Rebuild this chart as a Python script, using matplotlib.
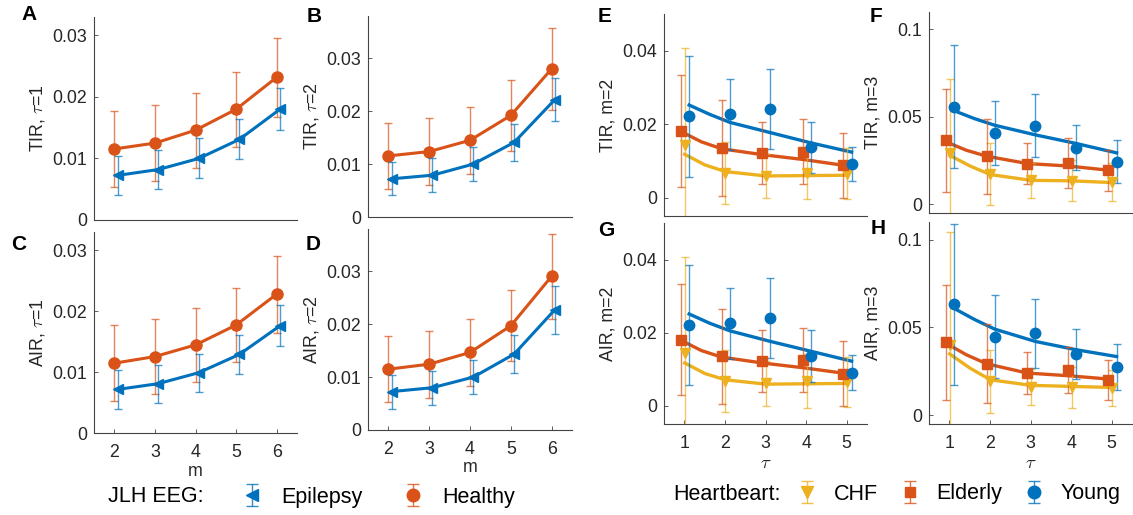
import numpy as np
import matplotlib
matplotlib.use('Agg')
import matplotlib.pyplot as plt
from matplotlib.colors import to_rgba
from matplotlib.container import ErrorbarContainer
from matplotlib.lines import Line2D
from matplotlib.collections import LineCollection

plt.rcParams['font.family'] = ['Liberation Sans', 'DejaVu Sans']
plt.rcParams['mathtext.fontset'] = 'cm'

# ---- data ----
m = [2, 3, 4, 5, 6]
tau = [1, 2, 3, 4, 5]
tau_fit = [1, 1.5, 2, 3, 4, 5]

# JLH EEG (panels A-D): mean and half error bar
tir1_healthy = [0.01155, 0.0125, 0.0146, 0.0180, 0.0232]
tir1_healthy_err = [0.0062, 0.0062, 0.0061, 0.0061, 0.0064]
tir1_epilepsy = [0.00725, 0.0082, 0.0100, 0.0131, 0.0180]
tir1_epilepsy_err = [0.00315, 0.00315, 0.00325, 0.00325, 0.0034]

tir2_healthy = [0.01155, 0.01237, 0.0145, 0.0192, 0.0280]
tir2_healthy_err = [0.0062, 0.0063, 0.0063, 0.00675, 0.0077]
tir2_epilepsy = [0.00722, 0.0079, 0.0100, 0.0141, 0.0222]
tir2_epilepsy_err = [0.00315, 0.0032, 0.0032, 0.00345, 0.0041]

air1_healthy = [0.01146, 0.01255, 0.01446, 0.01773, 0.0228]
air1_healthy_err = [0.00625, 0.0062, 0.0061, 0.0061, 0.0063]
air1_epilepsy = [0.00715, 0.0081, 0.0099, 0.0129, 0.0176]
air1_epilepsy_err = [0.00315, 0.0031, 0.00315, 0.00315, 0.00335]

air2_healthy = [0.0115, 0.01244, 0.01466, 0.0197, 0.02906]
air2_healthy_err = [0.0062, 0.0063, 0.0064, 0.0067, 0.0080]
air2_epilepsy = [0.00726, 0.0080, 0.0100, 0.01434, 0.02274]
air2_epilepsy_err = [0.0032, 0.0032, 0.00325, 0.0036, 0.0045]

# Heartbeat (panels E-H): points, half error bars and fitted curves
tir_m2_young = [0.0222, 0.0227, 0.0241, 0.0137, 0.0092]
tir_m2_young_err = [0.0165, 0.0096, 0.0109, 0.0069, 0.0047]
tir_m2_elderly = [0.0181, 0.0136, 0.0122, 0.0125, 0.0088]
tir_m2_elderly_err = [0.0152, 0.0131, 0.0084, 0.0088, 0.0088]
tir_m2_chf = [0.0143, 0.0067, 0.0058, 0.0067, 0.0065]
tir_m2_chf_err = [0.0265, 0.0084, 0.0060, 0.0072, 0.0069]
tir_m2_young_fit = [0.0252, 0.0227, 0.0205, 0.0177, 0.0149, 0.0124]
tir_m2_elderly_fit = [0.0180, 0.0152, 0.0133, 0.0117, 0.0104, 0.0088]
tir_m2_chf_fit = [0.0118, 0.0089, 0.0071, 0.0059, 0.0060, 0.0061]

tir_m3_young = [0.0557, 0.0408, 0.0450, 0.0323, 0.0242]
tir_m3_young_err = [0.0352, 0.0182, 0.0178, 0.0129, 0.0123]
tir_m3_elderly = [0.0365, 0.0275, 0.0233, 0.0237, 0.0195]
tir_m3_elderly_err = [0.0293, 0.0215, 0.0117, 0.0144, 0.0118]
tir_m3_chf = [0.0293, 0.0172, 0.0137, 0.0134, 0.0128]
tir_m3_chf_err = [0.0424, 0.0177, 0.0101, 0.0117, 0.0107]
tir_m3_young_fit = [0.0535, 0.0490, 0.0452, 0.0397, 0.0348, 0.0294]
tir_m3_elderly_fit = [0.0357, 0.0309, 0.0275, 0.0233, 0.0219, 0.0195]
tir_m3_chf_fit = [0.0280, 0.0219, 0.0170, 0.0137, 0.0134, 0.0124]

air_m2_young = [0.0222, 0.0226, 0.0240, 0.0136, 0.0090]
air_m2_young_err = [0.0164, 0.0097, 0.0109, 0.0071, 0.0048]
air_m2_elderly = [0.0181, 0.0136, 0.0122, 0.0125, 0.0088]
air_m2_elderly_err = [0.0151, 0.0130, 0.0084, 0.0087, 0.0088]
air_m2_chf = [0.0143, 0.0068, 0.0061, 0.0068, 0.0064]
air_m2_chf_err = [0.0264, 0.0084, 0.0061, 0.0073, 0.0068]
air_m2_young_fit = [0.0251, 0.0226, 0.0205, 0.0176, 0.0149, 0.0122]
air_m2_elderly_fit = [0.0179, 0.0151, 0.0133, 0.0117, 0.0104, 0.0089]
air_m2_chf_fit = [0.0117, 0.0088, 0.0071, 0.0059, 0.0060, 0.0061]

air_m3_young = [0.0631, 0.0447, 0.0466, 0.0349, 0.0273]
air_m3_young_err = [0.0459, 0.0237, 0.0195, 0.0144, 0.0130]
air_m3_elderly = [0.0414, 0.0294, 0.0242, 0.0257, 0.0202]
air_m3_elderly_err = [0.0326, 0.0226, 0.0120, 0.0132, 0.0115]
air_m3_chf = [0.0400, 0.0192, 0.0162, 0.0160, 0.0154]
air_m3_chf_err = [0.0645, 0.0180, 0.0103, 0.0117, 0.0104]
air_m3_young_fit = [0.0608, 0.0545, 0.0490, 0.0420, 0.0373, 0.0334]
air_m3_elderly_fit = [0.0410, 0.0344, 0.0293, 0.0240, 0.0225, 0.0206]
air_m3_chf_fit = [0.0349, 0.0268, 0.0202, 0.0170, 0.0164, 0.0158]

yticks_small = [0, 0.01, 0.02, 0.03]
yticks_small_lbl = ['0', '0.01', '0.02', '0.03']
yticks_m2 = [0, 0.02, 0.04]
yticks_m2_lbl = ['0', '0.02', '0.04']
yticks_m3 = [0, 0.05, 0.1]
yticks_m3_lbl = ['0', '0.05', '0.1']

BLUE = '#0072BD'
ORANGE = '#D95319'
YELLOW = '#EDB120'
AXC = '#262626'
FS = 12.8

W, H = 1133, 515
fig = plt.figure(figsize=(W / 100, H / 100), dpi=100)


def add_ax(left, right, top, bottom):
    ax = fig.add_axes([left / W, 1 - bottom / H, (right - left) / W, (bottom - top) / H])
    for s in ['top', 'right']:
        ax.spines[s].set_visible(False)
    for s in ['left', 'bottom']:
        ax.spines[s].set_color('#444444')
        ax.spines[s].set_linewidth(0.8)
    ax.tick_params(direction='in', length=3, width=0.6, colors='#444444',
                   labelcolor=AXC, labelsize=FS)
    ax.tick_params(axis='x', pad=8)
    ax.tick_params(axis='y', pad=5)
    return ax


def errline(ax, x, y, e, color, marker, ms, ls='-', lw=2.2, z=2):
    eb = ax.errorbar(x, y, yerr=e, fmt=marker, ls=ls, color=color, lw=lw, ms=ms,
                     ecolor=to_rgba(color, 0.7), elinewidth=1.0, capsize=3,
                     capthick=1.0, zorder=z)
    return eb


def eeg_panel(ax, healthy, healthy_err, epi, epi_err, ylab, ylim, bottom_row):
    errline(ax, np.array(m) + 0.0, healthy, healthy_err, ORANGE, 'o', 8, z=2)
    errline(ax, np.array(m) + 0.08, epi, epi_err, BLUE, '<', 7.5, z=3)
    ax.set_xlim(1.5, 6.5)
    ax.set_ylim(*ylim)
    ax.set_yticks(yticks_small)
    ax.set_yticklabels(yticks_small_lbl)
    ax.set_xticks(m)
    ax.set_ylabel(ylab, fontsize=FS, color=AXC)
    if bottom_row:
        ax.set_xlabel('m', fontsize=FS, color=AXC, labelpad=1)
    else:
        ax.tick_params(axis='x', length=0, labelbottom=False)


def hb_panel(ax, pts, fits, ylab, ylim, yt, ytl, bottom_row):
    # pts/fits: (chf, elderly, young)
    specs = [(YELLOW, 'v', 7.5, 0.01), (ORANGE, 's', 6.5, -0.08), (BLUE, 'o', 7.5, 0.12)]
    for (c, mk, ms, off), (y, e), f in zip(specs, pts, fits):
        ax.plot(np.array(tau_fit) + off, f, color=c, lw=2.4, zorder=2)
        errline(ax, np.array(tau) + off, y, e, c, mk, ms, ls='none', z=3)
    ax.set_xlim(0.5, 5.5)
    ax.set_ylim(*ylim)
    ax.set_yticks(yt)
    ax.set_yticklabels(ytl)
    ax.set_xticks(tau)
    ax.set_ylabel(ylab, fontsize=FS, color=AXC)
    if bottom_row:
        ax.set_xlabel(r'$\tau$', fontsize=13.5, color=AXC, labelpad=2)
    else:
        ax.tick_params(axis='x', length=0, labelbottom=False)


axA = add_ax(94, 297, 17, 220)
axB = add_ax(368, 572, 16, 217)
axC = add_ax(94, 297, 232, 433)
axD = add_ax(368, 572, 229, 430)
axE = add_ax(664, 867, 14, 216)
axF = add_ax(929, 1132, 12, 213)
axG = add_ax(664, 867, 223, 424)
axH = add_ax(929, 1132, 222, 424)

eeg_panel(axA, tir1_healthy, tir1_healthy_err, tir1_epilepsy, tir1_epilepsy_err,
          r'TIR, $\tau$=1', (0, 0.033), False)
eeg_panel(axB, tir2_healthy, tir2_healthy_err, tir2_epilepsy, tir2_epilepsy_err,
          r'TIR, $\tau$=2', (0, 0.038), False)
eeg_panel(axC, air1_healthy, air1_healthy_err, air1_epilepsy, air1_epilepsy_err,
          r'AIR, $\tau$=1', (0, 0.033), True)
eeg_panel(axD, air2_healthy, air2_healthy_err, air2_epilepsy, air2_epilepsy_err,
          r'AIR, $\tau$=2', (0, 0.038), True)

hb_panel(axE, [(tir_m2_chf, tir_m2_chf_err), (tir_m2_elderly, tir_m2_elderly_err),
               (tir_m2_young, tir_m2_young_err)],
         [tir_m2_chf_fit, tir_m2_elderly_fit, tir_m2_young_fit],
         'TIR, m=2', (-0.005, 0.05), yticks_m2, yticks_m2_lbl, False)
hb_panel(axF, [(tir_m3_chf, tir_m3_chf_err), (tir_m3_elderly, tir_m3_elderly_err),
               (tir_m3_young, tir_m3_young_err)],
         [tir_m3_chf_fit, tir_m3_elderly_fit, tir_m3_young_fit],
         'TIR, m=3', (-0.005, 0.11), yticks_m3, yticks_m3_lbl, False)
hb_panel(axG, [(air_m2_chf, air_m2_chf_err), (air_m2_elderly, air_m2_elderly_err),
               (air_m2_young, air_m2_young_err)],
         [air_m2_chf_fit, air_m2_elderly_fit, air_m2_young_fit],
         'AIR, m=2', (-0.005, 0.05), yticks_m2, yticks_m2_lbl, True)
hb_panel(axH, [(air_m3_chf, air_m3_chf_err), (air_m3_elderly, air_m3_elderly_err),
               (air_m3_young, air_m3_young_err)],
         [air_m3_chf_fit, air_m3_elderly_fit, air_m3_young_fit],
         'AIR, m=3', (-0.005, 0.11), yticks_m3, yticks_m3_lbl, True)

# panel letters
letters = [('A', 21, 15), ('B', 307, 16), ('C', 11, 245), ('D', 306, 245),
           ('E', 598, 16), ('F', 870, 16), ('G', 598, 230), ('H', 871, 228)]
for txt, x, y in letters:
    fig.text(x / W, 1 - y / H, txt, fontsize=15, fontweight='bold',
             ha='left', va='center', color='black')


def eb_handle(color, marker, ms, label):
    line = Line2D([], [], color=color, marker=marker, ms=ms, ls='none')
    cap = Line2D([], [], color=to_rgba(color, 0.8), marker='_', ms=8, mew=1.0, ls='none')
    bar = LineCollection([], colors=[to_rgba(color, 0.8)], linewidths=1.0)
    return ErrorbarContainer((line, (cap,), (bar,)), has_xerr=False, has_yerr=True,
                             label=label)


leg_font = 15.5
fig.text(108 / W, 1 - 497 / H, 'JLH EEG:', fontsize=leg_font, ha='left', va='center')
h1 = [eb_handle(BLUE, '<', 9, 'Epilepsy'), eb_handle(ORANGE, 'o', 9, 'Healthy')]
fig.legend(handles=h1, loc='center left', bbox_to_anchor=(236 / W, 1 - 497 / H),
           ncol=2, frameon=False, fontsize=leg_font, handlelength=1.5,
           handletextpad=0.6, columnspacing=1.6, borderpad=0, borderaxespad=0)

fig.text(673 / W, 1 - 494 / H, 'Heartbeart:', fontsize=leg_font, ha='left', va='center')
h2 = [eb_handle(YELLOW, 'v', 9, 'CHF'), eb_handle(ORANGE, 's', 7.5, 'Elderly'),
      eb_handle(BLUE, 'o', 9, 'Young')]
fig.legend(handles=h2, loc='center left', bbox_to_anchor=(791 / W, 1 - 494 / H),
           ncol=3, frameon=False, fontsize=leg_font, handlelength=1.5,
           handletextpad=0.47, columnspacing=0.75, borderpad=0, borderaxespad=0)

fig.savefig('out.png', dpi=100)
